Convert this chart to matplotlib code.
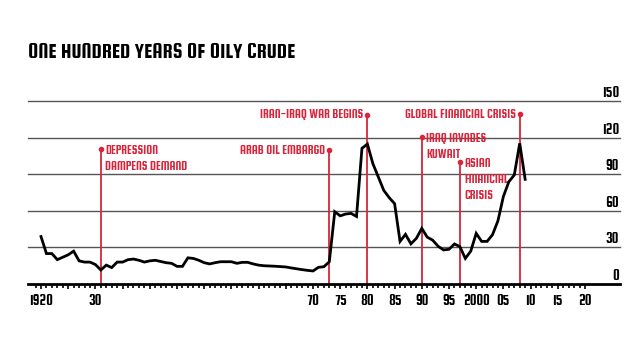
import matplotlib
matplotlib.use("Agg")
import matplotlib.pyplot as plt
from matplotlib import font_manager

years = list(range(1920, 2010))
prices = [39, 25, 25, 20, 22, 24, 27, 19, 18, 18,
          16, 11.5, 15.5, 13.5, 18, 18, 20, 20.5, 19.5, 18,
          19, 19.5, 18.5, 17.5, 17, 14.5, 14.5, 21.5, 21, 19.5,
          17.5, 16.5, 17.5, 18.3, 18.3, 18.3, 17, 17.8, 17.8, 16.5,
          15.5, 15, 14.8, 14.6, 14.3, 14, 13.2, 12.5, 11.8, 11.2,
          10.7, 13.7, 14.2, 18.3, 59.4, 56, 57.5, 58, 55.5, 111.5,
          115, 99, 88, 77, 71, 66, 35, 40.8, 33, 37.5,
          45.7, 38.5, 36, 31, 28, 28.5, 32.9, 30.7, 21, 27,
          41.6, 35, 35, 40.5, 52, 72, 84, 89.6, 115.6, 86]

event_years = [1931, 1973, 1980, 1990, 1997, 2008]
event_tops = [111, 110, 139, 121, 100.5, 139.5]
event_labels = ["DEPRESSION\nDAMPENS DEMAND", "ARAB OIL EMBARGO", "IRAN-IRAQ WAR BEGINS",
                "IRAQ INVADES\nKUWAIT", "ASIAN\nFINANCIAL\nCRISIS", "GLOBAL FINANCIAL CRISIS"]
event_side = ["right", "left", "left", "right", "right", "left"]

y_ticks = [0, 30, 60, 90, 120, 150]
x_tick_years = [1920, 1930, 1970, 1975, 1980, 1985, 1990, 1995, 2000, 2005, 2010, 2015, 2020]
x_tick_labels = ["1920", "30", "70", "75", "80", "85", "90", "95", "2000", "05", "10", "15", "20"]

avail = {f.name for f in font_manager.fontManager.ttflist}
fam = "DejaVu Sans"
for cand in ["Squada One", "Iceland", "Teko", "Oswald", "IBM Plex Sans Condensed"]:
    if cand in avail:
        fam = cand
        break

RED = "#d6263c"
W, H = 640, 360
fig = plt.figure(figsize=(6.4, 3.6), dpi=100)
ax = fig.add_axes([0, 0, 1, 1])
ppy = 5.44   # px per year
ppv = 1.217  # px per dollar
x0, y0 = 41, 284
ax.set_xlim(1920 - x0 / ppy, 1920 + (W - x0) / ppy)
ax.set_ylim((y0 - H) / ppv, y0 / ppv)
ax.axis("off")

xl = 28 / W
xr = 620 / W
xlab = 1920 + (619 - x0) / ppy
for v in y_ticks:
    if v > 0:
        ax.axhline(v, xmin=xl, xmax=xr, color="#555555", lw=1.0, zorder=1)
    ax.text(xlab, v + 1 / ppv, str(v), ha="right", va="bottom",
            fontsize=10.5, family=fam, color="black")
ax.axhline(0, xmin=xl, xmax=xr, color="black", lw=2.0, zorder=4)

# ticks
for yr in range(1919, 2021):
    ln = 5 if yr % 5 == 0 else 3.5
    ax.plot([yr, yr], [0, -ln / ppv], color="black", lw=1.2, solid_capstyle="butt", zorder=4)
for yr, lab in zip(x_tick_years, x_tick_labels):
    ax.text(yr, -11 / ppv, lab, ha="center", va="top", fontsize=10.5,
            family=fam, color="black")

# events
for yr, top, lab, side in zip(event_years, event_tops, event_labels, event_side):
    ax.plot([yr, yr], [0, top], color=RED, lw=1.3, zorder=2)
    ax.plot([yr], [top], "o", color=RED, ms=3, zorder=3)
    if side == "right":
        ax.text(yr + 0.75, top + 4 / ppv, lab, ha="left", va="top", fontsize=9,
                family=fam, color=RED, linespacing=1.55)
    else:
        ax.text(yr - 0.7, top, lab, ha="right", va="center", fontsize=9,
                family=fam, color=RED)

ax.plot(years, prices, color="black", lw=2.0, zorder=5, solid_joinstyle="miter")

fig.text(28 / W, 1 - 53 / H, "ONE HUNDRED YEARS OF OILY CRUDE", ha="left", va="center",
         fontsize=15.5, family=fam, color="black")

fig.savefig("out.png", dpi=100, facecolor="white")
